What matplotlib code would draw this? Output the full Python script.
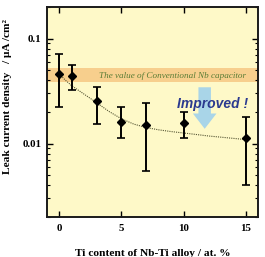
import matplotlib
matplotlib.use("Agg")
import matplotlib.pyplot as plt
from matplotlib.ticker import FixedLocator, FixedFormatter, LogLocator, NullFormatter

# ------------------------------------------
# Данные: ток утечки для сплавов Nb-Ti
# ------------------------------------------
ti_content = [0, 1, 3, 5, 7, 10, 15]
leak_current = [0.0464, 0.0441, 0.0253, 0.0160, 0.0149, 0.0156, 0.0112]
err_upper = [0.0705, 0.0557, 0.0347, 0.0222, 0.0245, 0.0199, 0.0179]
err_lower = [0.0225, 0.0322, 0.0155, 0.0112, 0.00545, 0.0113, 0.0040]

# пунктирная кривая
fit_x = [0, 0.5, 1, 2, 3, 4, 5, 6, 7, 8, 9, 10, 11, 12, 13, 14, 15]
fit_y = [0.046, 0.040, 0.0355, 0.0295, 0.0245, 0.0202, 0.0172, 0.0153,
         0.0142, 0.0135, 0.0130, 0.0126, 0.0122, 0.0118, 0.0115, 0.0112, 0.0109]

# полоса "обычного" Nb конденсатора
band_low, band_high = 0.0389, 0.0529

x_ticks = [0, 5, 10, 15]
y_ticks = [0.01, 0.1]
y_tick_labels = ["0.01", "0.1"]


def create_chart(filename="out.png"):
    fig = plt.figure(figsize=(2.65, 2.57), dpi=100)
    ax = fig.add_axes([0.177, 0.156, 0.797, 0.817])
    ax.set_facecolor("#fef9c8")

    ax.set_yscale("log")
    ax.set_xlim(-1, 16)
    ax.set_ylim(0.002, 0.2)

    # полоса и подпись
    ax.axhspan(band_low, band_high, color="#f7cf8d", lw=0, zorder=1)
    ax.text(9.1, 0.0444, "The value of Conventional Nb capacitor",
            family="Liberation Serif", style="italic", fontsize=6.6,
            color="#5a7d36", ha="center", va="center", zorder=2)

    # стрелка "Improved"
    ax.annotate("", xy=(11.7, 0.0130), xytext=(11.7, 0.0365),
                arrowprops=dict(arrowstyle="simple,head_length=1.1,head_width=1.7,tail_width=0.9",
                                color="#a9d5e8", lw=0, mutation_scale=10),
                zorder=2)
    ax.text(12.3, 0.0240, "Improved !", family="Liberation Sans",
            weight="bold", style="italic", fontsize=10, color="#2b3a8f",
            ha="center", va="center", zorder=3)

    # кривая и точки
    ax.plot(fit_x, fit_y, linestyle=(0, (1, 1)), color="#555533", lw=0.8, zorder=3)
    yerr = [[v - lo for v, lo in zip(leak_current, err_lower)],
            [hi - v for v, hi in zip(leak_current, err_upper)]]
    ax.errorbar(ti_content, leak_current, yerr=yerr, fmt="D", color="black",
                ms=4.5, elinewidth=1.4, capsize=3, capthick=1.2, zorder=4)

    # оси
    for s in ax.spines.values():
        s.set_linewidth(1.4)
        s.set_color("#1a1a1a")
    ax.xaxis.set_major_locator(FixedLocator(x_ticks))
    ax.yaxis.set_major_locator(FixedLocator(y_ticks))
    ax.yaxis.set_major_formatter(FixedFormatter(y_tick_labels))
    ax.yaxis.set_minor_locator(LogLocator(base=10, subs=(2, 3, 4, 5, 6, 7, 8, 9)))
    ax.yaxis.set_minor_formatter(NullFormatter())
    ax.tick_params(which="both", direction="in", top=True, right=True)
    ax.tick_params(which="major", length=4, width=1)
    ax.tick_params(which="minor", length=2.5, width=0.8)
    for lab in ax.get_xticklabels() + ax.get_yticklabels():
        lab.set_family("Liberation Serif")
        lab.set_weight("bold")
        lab.set_fontsize(7.8)
    ax.tick_params(axis="x", pad=5)
    ax.tick_params(axis="y", pad=4)

    ax.set_xlabel("Ti content of Nb-Ti alloy / at. %", family="Liberation Serif",
                  weight="bold", fontsize=8.2)
    ax.set_ylabel("Leak current density   / \u03bcA /cm\u00b2", family="Liberation Serif",
                  weight="bold", fontsize=8.2)
    ax.xaxis.set_label_coords(0.5, -0.155)
    ax.yaxis.set_label_coords(-0.163, 0.574)

    fig.savefig(filename, dpi=100)


def main():
    create_chart()


if __name__ == "__main__":
    main()
